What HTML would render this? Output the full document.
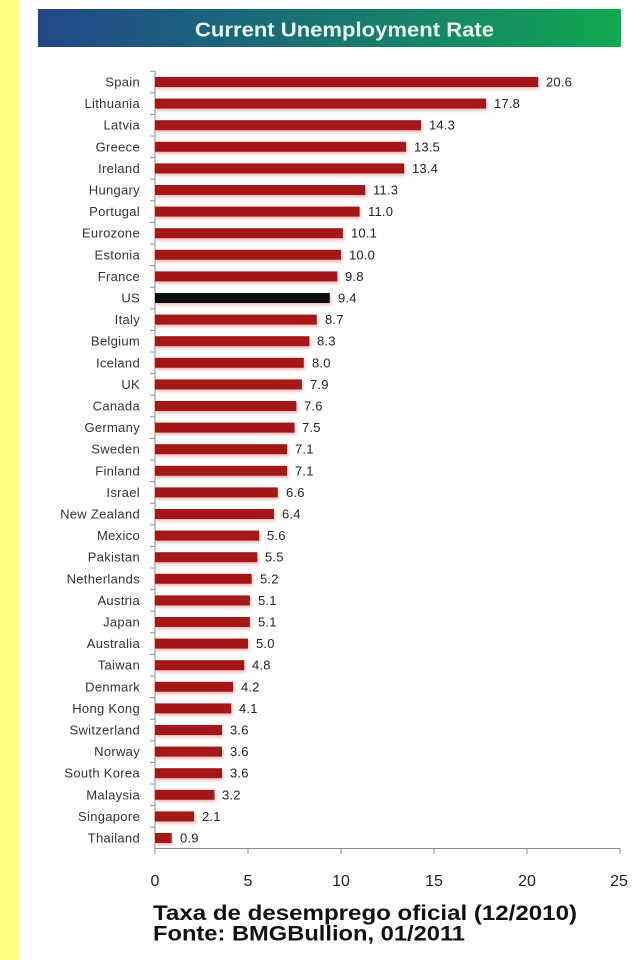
<!DOCTYPE html>
<html><head><meta charset="utf-8"><style>
html,body{margin:0;padding:0;background:#fff;}
svg{display:block;}
text{font-family:"Liberation Sans",Arial,sans-serif;}
.c{font-size:13px;fill:#333;text-anchor:end;letter-spacing:0.3px;}
.v{font-size:13px;fill:#222;letter-spacing:0.2px;}
.b{fill:#a51313;filter:url(#sh);}
</style></head><body>
<svg width="634" height="960" viewBox="0 0 634 960" xmlns="http://www.w3.org/2000/svg">
<defs>
<linearGradient id="g" x1="0" x2="1" y1="0" y2="0">
<stop offset="0" stop-color="#22488a"/>
<stop offset="0.4" stop-color="#1a6c78"/>
<stop offset="0.72" stop-color="#168a64"/>
<stop offset="1" stop-color="#10a84e"/>
</linearGradient>
<filter id="sh" x="-10%" y="-60%" width="120%" height="240%">
<feDropShadow dx="1" dy="2" stdDeviation="1.6" flood-color="#e07070" flood-opacity="0.55"/>
</filter>
</defs>
<rect x="0" y="0" width="634" height="960" fill="#fff"/>
<rect x="0" y="0" width="20" height="960" fill="#ffff86"/>
<rect x="38" y="9" width="583" height="38" fill="url(#g)"/>
<text x="195" y="36.5" font-size="20" font-weight="bold" fill="#e8f6f0" textLength="299" lengthAdjust="spacingAndGlyphs">Current Unemployment Rate</text>

<!-- axes -->
<line x1="155" y1="71" x2="155" y2="849" stroke="#8c8c8c" stroke-width="1"/>
<line x1="155" y1="848.5" x2="620" y2="848.5" stroke="#8c8c8c" stroke-width="1"/>
<g stroke="#8c8c8c" stroke-width="1">
<line x1="150" y1="71.2" x2="155" y2="71.2"/><line x1="150" y1="92.8" x2="155" y2="92.8"/><line x1="150" y1="114.4" x2="155" y2="114.4"/><line x1="150" y1="136" x2="155" y2="136"/><line x1="150" y1="157.6" x2="155" y2="157.6"/><line x1="150" y1="179.2" x2="155" y2="179.2"/><line x1="150" y1="200.8" x2="155" y2="200.8"/><line x1="150" y1="222.4" x2="155" y2="222.4"/><line x1="150" y1="244" x2="155" y2="244"/><line x1="150" y1="265.6" x2="155" y2="265.6"/><line x1="150" y1="287.2" x2="155" y2="287.2"/><line x1="150" y1="308.8" x2="155" y2="308.8"/><line x1="150" y1="330.4" x2="155" y2="330.4"/><line x1="150" y1="352" x2="155" y2="352"/><line x1="150" y1="373.6" x2="155" y2="373.6"/><line x1="150" y1="395.2" x2="155" y2="395.2"/><line x1="150" y1="416.8" x2="155" y2="416.8"/><line x1="150" y1="438.4" x2="155" y2="438.4"/><line x1="150" y1="460" x2="155" y2="460"/><line x1="150" y1="481.6" x2="155" y2="481.6"/><line x1="150" y1="503.2" x2="155" y2="503.2"/><line x1="150" y1="524.8" x2="155" y2="524.8"/><line x1="150" y1="546.4" x2="155" y2="546.4"/><line x1="150" y1="568" x2="155" y2="568"/><line x1="150" y1="589.6" x2="155" y2="589.6"/><line x1="150" y1="611.2" x2="155" y2="611.2"/><line x1="150" y1="632.8" x2="155" y2="632.8"/><line x1="150" y1="654.4" x2="155" y2="654.4"/><line x1="150" y1="676" x2="155" y2="676"/><line x1="150" y1="697.6" x2="155" y2="697.6"/><line x1="150" y1="719.2" x2="155" y2="719.2"/><line x1="150" y1="740.8" x2="155" y2="740.8"/><line x1="150" y1="762.4" x2="155" y2="762.4"/><line x1="150" y1="784" x2="155" y2="784"/><line x1="150" y1="805.6" x2="155" y2="805.6"/><line x1="150" y1="827.2" x2="155" y2="827.2"/>
<line x1="155" y1="848" x2="155" y2="854"/><line x1="248" y1="848" x2="248" y2="854"/><line x1="341" y1="848" x2="341" y2="854"/><line x1="434" y1="848" x2="434" y2="854"/><line x1="527" y1="848" x2="527" y2="854"/><line x1="620" y1="848" x2="620" y2="854"/>
</g>
<g font-size="16" fill="#222" text-anchor="middle">
<text x="155" y="886">0</text><text x="248" y="886">5</text><text x="341" y="886">10</text><text x="434" y="886">15</text><text x="527" y="886">20</text><text x="619" y="886">25</text>
</g>

<!-- rows -->
<g transform="translate(0,82)"><text class="c" x="140" y="4.5">Spain</text><rect class="b" x="155" y="-5" width="383.2" height="10"/><text class="v" x="546" y="4.5">20.6</text></g>
<g transform="translate(0,103.6)"><text class="c" x="140" y="4.5">Lithuania</text><rect class="b" x="155" y="-5" width="331.1" height="10"/><text class="v" x="494" y="4.5">17.8</text></g>
<g transform="translate(0,125.2)"><text class="c" x="140" y="4.5">Latvia</text><rect class="b" x="155" y="-5" width="266" height="10"/><text class="v" x="429" y="4.5">14.3</text></g>
<g transform="translate(0,146.8)"><text class="c" x="140" y="4.5">Greece</text><rect class="b" x="155" y="-5" width="251.1" height="10"/><text class="v" x="414" y="4.5">13.5</text></g>
<g transform="translate(0,168.4)"><text class="c" x="140" y="4.5">Ireland</text><rect class="b" x="155" y="-5" width="249.2" height="10"/><text class="v" x="412" y="4.5">13.4</text></g>
<g transform="translate(0,190)"><text class="c" x="140" y="4.5">Hungary</text><rect class="b" x="155" y="-5" width="210.2" height="10"/><text class="v" x="373" y="4.5">11.3</text></g>
<g transform="translate(0,211.6)"><text class="c" x="140" y="4.5">Portugal</text><rect class="b" x="155" y="-5" width="204.6" height="10"/><text class="v" x="368" y="4.5">11.0</text></g>
<g transform="translate(0,233.2)"><text class="c" x="140" y="4.5">Eurozone</text><rect class="b" x="155" y="-5" width="187.9" height="10"/><text class="v" x="351" y="4.5">10.1</text></g>
<g transform="translate(0,254.8)"><text class="c" x="140" y="4.5">Estonia</text><rect class="b" x="155" y="-5" width="186" height="10"/><text class="v" x="349" y="4.5">10.0</text></g>
<g transform="translate(0,276.4)"><text class="c" x="140" y="4.5">France</text><rect class="b" x="155" y="-5" width="182.3" height="10"/><text class="v" x="345" y="4.5">9.8</text></g>
<g transform="translate(0,298)"><text class="c" x="140" y="4.5">US</text><rect x="155" y="-5" width="174.8" height="10" fill="#0c0c0c" filter="url(#sh)"/><text class="v" x="338" y="4.5">9.4</text></g>
<g transform="translate(0,319.6)"><text class="c" x="140" y="4.5">Italy</text><rect class="b" x="155" y="-5" width="161.8" height="10"/><text class="v" x="325" y="4.5">8.7</text></g>
<g transform="translate(0,341.2)"><text class="c" x="140" y="4.5">Belgium</text><rect class="b" x="155" y="-5" width="154.4" height="10"/><text class="v" x="317" y="4.5">8.3</text></g>
<g transform="translate(0,362.8)"><text class="c" x="140" y="4.5">Iceland</text><rect class="b" x="155" y="-5" width="148.8" height="10"/><text class="v" x="312" y="4.5">8.0</text></g>
<g transform="translate(0,384.4)"><text class="c" x="140" y="4.5">UK</text><rect class="b" x="155" y="-5" width="146.9" height="10"/><text class="v" x="310" y="4.5">7.9</text></g>
<g transform="translate(0,406)"><text class="c" x="140" y="4.5">Canada</text><rect class="b" x="155" y="-5" width="141.4" height="10"/><text class="v" x="304" y="4.5">7.6</text></g>
<g transform="translate(0,427.6)"><text class="c" x="140" y="4.5">Germany</text><rect class="b" x="155" y="-5" width="139.5" height="10"/><text class="v" x="302" y="4.5">7.5</text></g>
<g transform="translate(0,449.2)"><text class="c" x="140" y="4.5">Sweden</text><rect class="b" x="155" y="-5" width="132.1" height="10"/><text class="v" x="295" y="4.5">7.1</text></g>
<g transform="translate(0,470.8)"><text class="c" x="140" y="4.5">Finland</text><rect class="b" x="155" y="-5" width="132.1" height="10"/><text class="v" x="295" y="4.5">7.1</text></g>
<g transform="translate(0,492.4)"><text class="c" x="140" y="4.5">Israel</text><rect class="b" x="155" y="-5" width="122.8" height="10"/><text class="v" x="286" y="4.5">6.6</text></g>
<g transform="translate(0,514)"><text class="c" x="140" y="4.5">New Zealand</text><rect class="b" x="155" y="-5" width="119" height="10"/><text class="v" x="282" y="4.5">6.4</text></g>
<g transform="translate(0,535.6)"><text class="c" x="140" y="4.5">Mexico</text><rect class="b" x="155" y="-5" width="104.2" height="10"/><text class="v" x="267" y="4.5">5.6</text></g>
<g transform="translate(0,557.2)"><text class="c" x="140" y="4.5">Pakistan</text><rect class="b" x="155" y="-5" width="102.3" height="10"/><text class="v" x="265" y="4.5">5.5</text></g>
<g transform="translate(0,578.8)"><text class="c" x="140" y="4.5">Netherlands</text><rect class="b" x="155" y="-5" width="96.7" height="10"/><text class="v" x="260" y="4.5">5.2</text></g>
<g transform="translate(0,600.4)"><text class="c" x="140" y="4.5">Austria</text><rect class="b" x="155" y="-5" width="94.9" height="10"/><text class="v" x="258" y="4.5">5.1</text></g>
<g transform="translate(0,622)"><text class="c" x="140" y="4.5">Japan</text><rect class="b" x="155" y="-5" width="94.9" height="10"/><text class="v" x="258" y="4.5">5.1</text></g>
<g transform="translate(0,643.6)"><text class="c" x="140" y="4.5">Australia</text><rect class="b" x="155" y="-5" width="93" height="10"/><text class="v" x="256" y="4.5">5.0</text></g>
<g transform="translate(0,665.2)"><text class="c" x="140" y="4.5">Taiwan</text><rect class="b" x="155" y="-5" width="89.3" height="10"/><text class="v" x="252" y="4.5">4.8</text></g>
<g transform="translate(0,686.8)"><text class="c" x="140" y="4.5">Denmark</text><rect class="b" x="155" y="-5" width="78.1" height="10"/><text class="v" x="241" y="4.5">4.2</text></g>
<g transform="translate(0,708.4)"><text class="c" x="140" y="4.5">Hong Kong</text><rect class="b" x="155" y="-5" width="76.3" height="10"/><text class="v" x="239" y="4.5">4.1</text></g>
<g transform="translate(0,730)"><text class="c" x="140" y="4.5">Switzerland</text><rect class="b" x="155" y="-5" width="67" height="10"/><text class="v" x="230" y="4.5">3.6</text></g>
<g transform="translate(0,751.6)"><text class="c" x="140" y="4.5">Norway</text><rect class="b" x="155" y="-5" width="67" height="10"/><text class="v" x="230" y="4.5">3.6</text></g>
<g transform="translate(0,773.2)"><text class="c" x="140" y="4.5">South Korea</text><rect class="b" x="155" y="-5" width="67" height="10"/><text class="v" x="230" y="4.5">3.6</text></g>
<g transform="translate(0,794.8)"><text class="c" x="140" y="4.5">Malaysia</text><rect class="b" x="155" y="-5" width="59.5" height="10"/><text class="v" x="222" y="4.5">3.2</text></g>
<g transform="translate(0,816.4)"><text class="c" x="140" y="4.5">Singapore</text><rect class="b" x="155" y="-5" width="39.1" height="10"/><text class="v" x="202" y="4.5">2.1</text></g>
<g transform="translate(0,838)"><text class="c" x="140" y="4.5">Thailand</text><rect class="b" x="155" y="-5" width="16.7" height="10"/><text class="v" x="180" y="4.5">0.9</text></g>

<text x="153" y="920" font-size="21" font-weight="bold" fill="#111" textLength="424" lengthAdjust="spacingAndGlyphs">Taxa de desemprego oficial (12/2010)</text>
<text x="153" y="940.5" font-size="21" font-weight="bold" fill="#111" textLength="312" lengthAdjust="spacingAndGlyphs">Fonte: BMGBullion, 01/2011</text>
</svg>
</body></html>
